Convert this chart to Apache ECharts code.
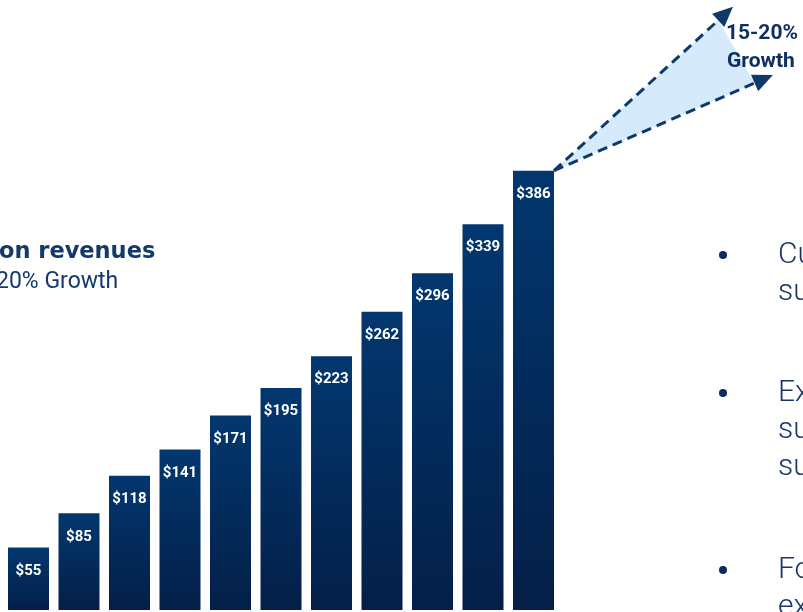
<!DOCTYPE html>
<html><head><meta charset="utf-8">
<script src="https://cdn.jsdelivr.net/npm/echarts@6/dist/echarts.min.js"></script>
<style>html,body{margin:0;padding:0;background:#fff}#c{width:803px;height:612px}</style>
</head><body><div id="c"></div>
<script>
const categories = ['1','2','3','4','5','6','7','8','9','10','11'];
const revenues = [55, 85, 118, 141, 171, 195, 223, 262, 296, 339, 386];
// projected growth arrows (x in category-index units, y in revenue units)
const projectionX = [14.45, 15.24];
const projectionValues = [530, 470];
const growthLabel = ['15-20%', 'Growth'];
const titleLines = ['on revenues', '20% Growth'];
const bulletLines = [['Cu', 'su'], ['Ex', 'su', 'su'], ['Fo', 'ex']];

const W = 803, H = 612;
const gridLeft = 3.25, catW = 50.5, yMax = 536;
const navy = '#0d3a6a';

const chart = echarts.init(document.getElementById('c'), null, {renderer: 'canvas'});

const lastIdx = revenues.length - 1;
const startX = lastIdx + 0.5 + 20.5 / catW;

const graphics = [];
graphics.push({type: 'text', z: 100, x: -1, y: 252, style: {text: titleLines[0], fontFamily: 'DejaVu Sans', fontWeight: 700, fontSize: 22.5, fill: '#143a6b', verticalAlign: 'middle'}});
graphics.push({type: 'text', z: 100, x: -4, y: 282, style: {text: titleLines[1], fontFamily: 'Roboto', fontWeight: 400, fontSize: 23, fill: '#143a6b', verticalAlign: 'middle'}});
graphics.push({type: 'text', z: 100, x: 726, y: 34, style: {text: growthLabel[0], fontFamily: 'Roboto', fontWeight: 700, fontSize: 21, fill: '#0f2f63', verticalAlign: 'middle'}});
graphics.push({type: 'text', z: 100, x: 727, y: 62, style: {text: growthLabel[1], fontFamily: 'Roboto', fontWeight: 700, fontSize: 21, fill: '#0f2f63', verticalAlign: 'middle'}});
const bulletY = [[255, 292], [393, 430, 467], [570, 607]];
bulletLines.forEach((lines, i) => {
  graphics.push({type: 'circle', z: 100, shape: {cx: 723, cy: bulletY[i][0], r: 4}, style: {fill: '#10285a'}});
  lines.forEach((t, j) => {
    graphics.push({type: 'text', z: 100, x: 778, y: bulletY[i][j], style: {text: t, fontFamily: 'Roboto', fontWeight: 300, fontSize: 30, fill: '#1a3668', verticalAlign: 'middle'}});
  });
});

chart.setOption({
  animation: false,
  backgroundColor: '#fff',
  grid: [
    {left: gridLeft, top: 0, width: catW * categories.length, bottom: 2},
    {left: gridLeft, top: 0, right: 0, bottom: 2}
  ],
  xAxis: [
    {type: 'category', data: categories, gridIndex: 0, show: false},
    {type: 'value', gridIndex: 1, min: 0, max: (W - gridLeft) / catW, show: false}
  ],
  yAxis: [
    {type: 'value', gridIndex: 0, min: 0, max: yMax, show: false},
    {type: 'value', gridIndex: 1, min: 0, max: yMax, show: false}
  ],
  graphic: graphics,
  series: [
    {
      type: 'custom', xAxisIndex: 1, yAxisIndex: 1, z: 1,
      data: [[startX, revenues[lastIdx]]],
      renderItem: function (params, api) {
        const s = api.coord([startX, revenues[lastIdx]]);
        const tips = projectionX.map((x, i) => api.coord([x, projectionValues[i]]));
        const children = [];
        const bases = [];
        const heads = [];
        tips.forEach(t => {
          const dx = t[0] - s[0], dy = t[1] - s[1];
          const len = Math.sqrt(dx * dx + dy * dy);
          const ux = dx / len, uy = dy / len;
          const hl = 20, hw = 9;
          const b = [t[0] - ux * hl, t[1] - uy * hl];
          bases.push(b);
          heads.push([t, [b[0] - uy * hw, b[1] + ux * hw], [b[0] + uy * hw, b[1] - ux * hw]]);
        });
        children.push({type: 'polygon', shape: {points: [s, bases[0], bases[1]]}, style: {fill: '#d5ebfb'}});
        bases.forEach(b => {
          children.push({type: 'line', shape: {x1: s[0], y1: s[1], x2: b[0], y2: b[1]}, style: {stroke: navy, lineWidth: 3, lineDash: [10, 6]}});
        });
        heads.forEach(h => {
          children.push({type: 'polygon', shape: {points: h}, style: {fill: navy}});
        });
        return {type: 'group', children: children};
      }
    },
    {
      type: 'bar', xAxisIndex: 0, yAxisIndex: 0, z: 2,
      data: revenues,
      barWidth: 41,
      itemStyle: {
        color: new echarts.graphic.LinearGradient(0, 0, 0, 1, [
          {offset: 0, color: '#02376f'},
          {offset: 1, color: '#041f48'}
        ])
      },
      label: {
        show: true, position: 'insideTop', distance: 16,
        formatter: p => '$' + p.value,
        color: '#fff', fontFamily: 'Roboto', fontWeight: 700, fontSize: 15
      }
    }
  ]
});
</script></body></html>
